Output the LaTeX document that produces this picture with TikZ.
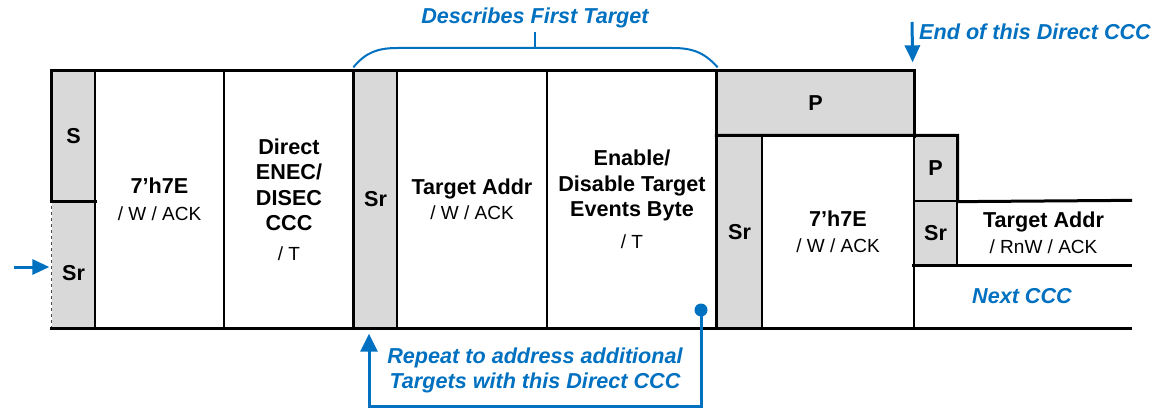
\documentclass[tikz,border=0pt]{standalone}
\usepackage{fontspec}
\setmainfont{Liberation Sans}
\usetikzlibrary{arrows.meta}
\definecolor{fieldgray}{RGB}{217,217,217}
\definecolor{noteblue}{RGB}{0,112,192}
\newcommand{\subtxt}[1]{{\mdseries\fontsize{19}{22}\selectfont #1}}

\begin{document}
\begin{tikzpicture}[x=1pt, y=-1pt,
  field/.style={draw, line width=1.3pt, inner sep=0pt, align=center,
    font=\fontsize{21.6}{25.5}\selectfont\bfseries},
  shaded/.style={field, fill=fieldgray},
  frame/.style={line width=3pt, line cap=rect},
  note/.style={noteblue, line width=3pt},
  notetext/.style={text=noteblue, inner sep=0pt, align=center,
    font=\fontsize{21.6}{25}\selectfont\bfseries\itshape}]
\useasboundingbox (0,0) rectangle (1155,409);
% fields of the frame
\node[shaded, minimum width=43pt, minimum height=130pt] (S) at (73.5,136) {S};
\node[field, draw=none, fill=fieldgray, minimum width=43pt, minimum height=127pt] (Sr0) at (73.5,264.5) {\\[6pt]Sr};
\node[field, minimum width=129pt, minimum height=257pt] (addrA) at (159.5,199.5) {7’h7E\\[2pt]\subtxt{/ W / ACK}};
\node[field, minimum width=130pt, minimum height=257pt] (ccc) at (289,199.5) {Direct\\ENEC/\\DISEC\\CCC\\[4pt]\subtxt{/ T}};
\node[shaded, minimum width=43pt, minimum height=257pt] (Sr1) at (375.5,199.5) {Sr};
\node[field, minimum width=150pt, minimum height=257pt] (tgtA) at (472,199.5) {Target Addr\\\subtxt{/ W / ACK}};
\node[field, minimum width=170pt, minimum height=257pt] (events) at (632,199.5) {Enable/\\Disable Target\\Events Byte\\[6pt]\subtxt{/ T}};
\node[shaded, minimum width=197pt, minimum height=65pt] (P1) at (815.5,103.5) {P};
\node[shaded, minimum width=45pt, minimum height=192pt] (Sr2) at (739.5,232) {Sr};
\node[field, minimum width=152pt, minimum height=192pt] (addrB) at (838,232) {7’h7E\\\subtxt{/ W / ACK}};
\node[shaded, minimum width=43pt, minimum height=65pt] (P2) at (935.5,168.5) {P};
\node[shaded, minimum width=43pt, minimum height=64pt] (Sr3) at (935.5,233) {Sr};
\node[field, draw=none, minimum width=173pt, minimum height=64pt] (tgtB) at (1043.5,233) {Target Addr\\\subtxt{/ RnW / ACK}};
\node[field, draw=none, minimum width=216pt, minimum height=63pt] (next) at (1022,296.5) {};
\node[notetext] (nextlbl) at (next) {Next CCC};
\draw[line width=1pt, dashed, black!70] (Sr0.north west) -- (Sr0.south west);
% heavy outline
\draw[frame] (S.south east) -- (S.south west) -- (S.north west) -- (P1.north east) -- (P1.south east);
\draw[frame] (Sr2.north west) -- (P2.north east) -- (P2.south east) -- (tgtB.north east);
\draw[frame] (Sr3.south west) -- (tgtB.south east);
\draw[frame] (Sr0.south west) -- (next.south east);
\draw[frame] (Sr1.north west) -- (Sr1.south west);
\draw[frame] (P1.north west) -- (Sr2.south west);
% notes
\coordinate (inarrow) at (14,267);
\draw[note, -{Triangle[length=17pt, width=15pt]}] (inarrow) -- ([xshift=-2pt]inarrow -| Sr0.west);
\coordinate (endtop) at (912,22);
\draw[note, -{Triangle[length=17pt, width=15pt]}] (endtop) -- ([xshift=-2pt, yshift=8pt]P1.north east);
\node[notetext, anchor=west] (endlbl) at (919,32) {End of this Direct CCC};
\draw[note, line width=2pt] ([yshift=3pt]Sr1.north west) .. controls (366,52) and (378,48) .. (398,48)
  -- (672,48) .. controls (692,48) and (704,52) .. ([yshift=3pt]events.north east);
\draw[note, line width=2pt] (535,48) -- (535,32);
\node[notetext] (desc) at (535,18) {Describes First Target};
\coordinate (loopdot) at (701,310);
\coordinate (loopbot) at (701,406);
\fill[noteblue] (loopdot) circle (6.5);
\draw[note, -{Triangle[length=18pt, width=17pt]}] (loopdot) -- (loopbot) -| ([xshift=-6.5pt, yshift=-5pt]Sr1.south);
\node[notetext] (repeat) at (535,370) {Repeat to address additional\\Targets with this Direct CCC};
\end{tikzpicture}
\end{document}
